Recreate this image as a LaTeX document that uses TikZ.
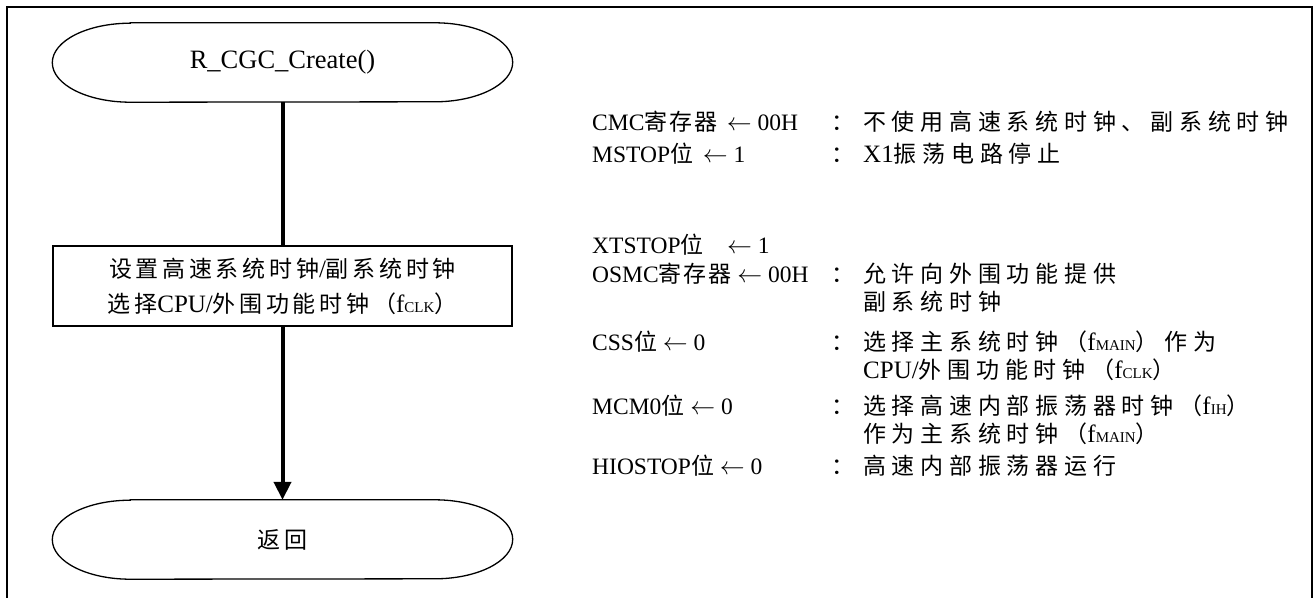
\documentclass[tikz,border=0pt]{standalone}
\usepackage{fontspec}
\setmainfont{Liberation Serif}
\newfontfamily\cjkf{Noto Sans CJK SC}[LetterSpace=25]
\newfontfamily\cjkb{Noto Sans CJK SC}[LetterSpace=16]
\newfontfamily\cjkl{Noto Sans CJK SC}[LetterSpace=8]
\newcommand{\cj}[1]{{\fontsize{23}{35}\selectfont\cjkf #1}}
\newcommand{\cjb}[1]{{\fontsize{23}{35}\selectfont\cjkb #1}}
\newcommand{\cjl}[1]{{\fontsize{23}{35}\selectfont\cjkl #1}}
\newcommand{\smc}[1]{{\fontsize{15}{15}\selectfont #1}}
\usetikzlibrary{arrows.meta}
\newcommand{\termpath}[1]{%
  \draw[nodeline] ([xshift=78pt]#1.north west) -- ([xshift=-78pt]#1.north east)
    arc[start angle=90,end angle=-90,x radius=78pt,y radius=39.5pt]
    -- ([xshift=78pt]#1.south west)
    arc[start angle=270,end angle=90,x radius=78pt,y radius=39.5pt] -- cycle;}
\begin{document}
\begin{tikzpicture}[x=1pt,y=1pt,
  every node/.style={font=\fontsize{25}{35}\selectfont, inner sep=0pt},
  nodeline/.style={line width=1.3pt},
  term/.style={minimum width=460pt, minimum height=79pt},
  procbox/.style={draw, nodeline, minimum width=459pt, minimum height=80pt, align=center},
  flow/.style={line width=4pt},
  lbl/.style={anchor=base west},
  reg/.style={anchor=base west, font=\fontsize{23.5}{35}\selectfont},
  colon/.style={anchor=base}]
\useasboundingbox (0,0) rectangle (1314,-597);
\begin{scope}
  \clip (0,0) rectangle (1314,-597);
  \draw[line width=2.2pt] (7,-7) rectangle (1312,-650);
\end{scope}

\node[term, font=\fontsize{26.5}{30}\selectfont] (start) at (282.5,-62.5) {R\_CGC\_Create()};
\termpath{start}
\node[procbox] (set) at (282.5,-286) {\cjb{设置高速系统时钟}/\cjb{副系统时钟}\\\cjb{选择}CPU/\cjb{外围功能时钟（}f\smc{CLK}\cjb{）}};
\node[term] (end) at (282.5,-539.5) {\cjb{返回}};
\termpath{end}

\draw[flow] (start.south) -- (set.north);
\draw[flow,-{Triangle[width=17pt,length=18pt]}] (set.south) -- (end.north);

% left column
\node[reg] (l1) at (592,-130) {CMC\cjl{寄存器}\ \,$\leftarrow$\ 00H};
\node[reg] (l2) at (592,-162) {MSTOP\cjl{位}\ \,$\leftarrow$\ 1};
\node[reg] (l3) at (592,-253) {XTSTOP\cjl{位}\quad$\leftarrow$\ 1};
\node[reg] (l4) at (592,-282) {OSMC\cjl{寄存器}\ $\leftarrow$\ 00H};
\node[reg] (l5) at (592,-350) {CSS\cjl{位}\ $\leftarrow$\ 0};
\node[reg] (l6) at (592,-414) {MCM0\cjl{位}\ $\leftarrow$\ 0};
\node[reg] (l7) at (592,-474) {HIOSTOP\cjl{位}\ $\leftarrow$\ 0};

% colons
\node[colon] (c1) at (843,-130) {\cj{：}};
\node[colon] (c2) at (843,-162) {\cj{：}};
\node[colon] (c4) at (843,-282) {\cj{：}};
\node[colon] (c5) at (843,-350) {\cj{：}};
\node[colon] (c6) at (843,-414) {\cj{：}};
\node[colon] (c7) at (843,-474) {\cj{：}};

% descriptions
\node[lbl] (d1) at (863,-130) {\cj{不使用高速系统时钟、副系统时钟}};
\node[lbl] (d2) at (863,-162) {X1\cj{振荡电路停止}};
\node[lbl] (d4) at (863,-282) {\cj{允许向外围功能提供}};
\node[lbl] (d4b) at (863,-310) {\cj{副系统时钟}};
\node[lbl] (d5) at (863,-350) {\cj{选择主系统时钟（}f\smc{MAIN}\cj{）作为}};
\node[lbl] (d5b) at (863,-378) {CPU/\cj{外围功能时钟（}f\smc{CLK}\cj{）}};
\node[lbl] (d6) at (863,-414) {\cj{选择高速内部振荡器时钟（}f\smc{IH}\cj{）}};
\node[lbl] (d6b) at (863,-442) {\cj{作为主系统时钟（}f\smc{MAIN}\cj{）}};
\node[lbl] (d7) at (863,-474) {\cj{高速内部振荡器运行}};
\end{tikzpicture}
\end{document}
